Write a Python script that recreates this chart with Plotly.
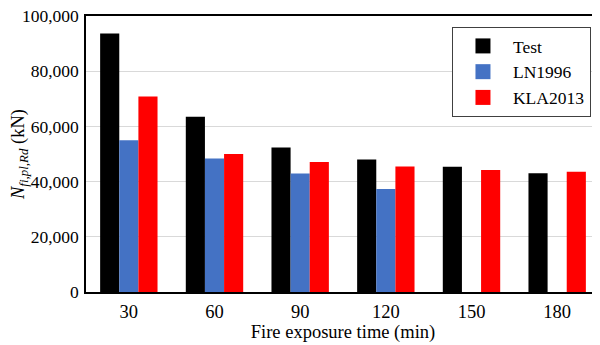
import plotly.graph_objects as go

categories = ["30", "60", "90", "120", "150", "180"]
test = [93700, 63500, 52400, 48000, 45400, 43000]
ln1996 = [55000, 48400, 42900, 37300, None, None]
kla2013 = [70800, 50000, 47100, 45500, 44200, 43600]
y_ticks = [0, 20000, 40000, 60000, 80000, 100000]
y_tick_labels = ["0", "20,000", "40,000", "60,000", "80,000", "100,000"]

series = [("Test", test, "#000000"), ("LN1996", ln1996, "#4472C4"), ("KLA2013", kla2013, "#FF0000")]

ff = "Liberation Serif"
fs = 18.5
fig = go.Figure()
for name, vals, color in series:
    fig.add_trace(go.Bar(x=categories, y=vals, name=name, marker=dict(color=color, line=dict(width=0)),
                         showlegend=False))
for name, vals, color in series:
    fig.add_trace(go.Scatter(x=[None], y=[None], mode="markers", name=name,
                             marker=dict(symbol="square", size=15, color=color)))

fig.update_layout(
    width=592, height=337,
    margin=dict(l=78, r=0, t=8, b=53),
    paper_bgcolor="white", plot_bgcolor="white",
    barmode="group", bargap=0.33, bargroupgap=0,
    font=dict(family=ff, size=fs, color="#000000"),
    legend=dict(x=0.712, y=0.96, xanchor="left", yanchor="top",
                bgcolor="white", bordercolor="#404040", borderwidth=1,
                font=dict(family=ff, size=17.5), itemwidth=50, tracegroupgap=0),
    xaxis=dict(type="category", showline=True, linecolor="#000000", linewidth=1.5, mirror=True,
               ticks="", showgrid=False, automargin=False, ticklabelstandoff=2,
               tickfont=dict(family=ff, size=fs),
               title=dict(text="Fire exposure time (min)", standoff=2, font=dict(family=ff, size=fs))),
    yaxis=dict(range=[0, 100000], tickvals=y_ticks, ticktext=y_tick_labels,
               showline=True, linecolor="#000000", linewidth=1.5,
               showgrid=True, gridcolor="#D9D9D9", gridwidth=1, zeroline=False,
               ticks="", ticklen=0, automargin=False, ticklabelstandoff=2,
               ticklabeloverflow="allow",
               tickfont=dict(family=ff, size=17.5),
               title=dict(text="<i>N</i><sub><i>fi,pl,Rd</i></sub> (kN)", standoff=4, font=dict(family=ff, size=fs))),
)
fig.write_html("out.html")
